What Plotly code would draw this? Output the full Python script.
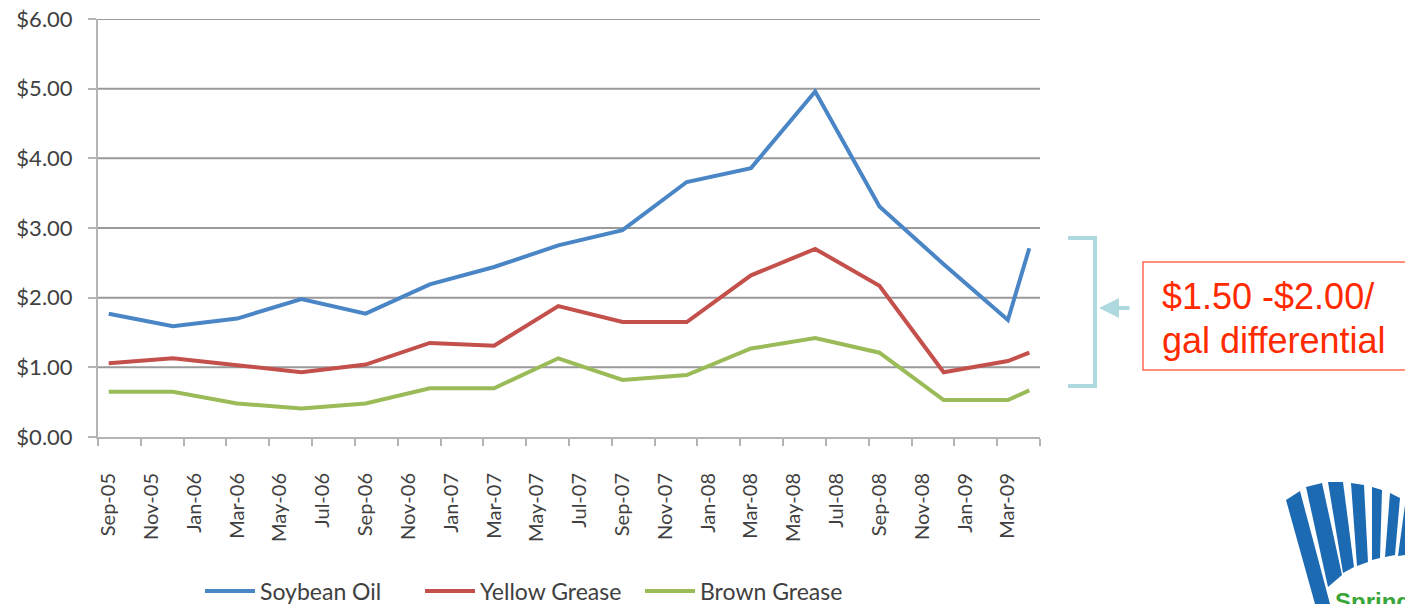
import pandas as pd
import plotly.graph_objects as go

# ---------------- data ----------------
tick_labels = ["Sep-05", "Nov-05", "Jan-06", "Mar-06", "May-06", "Jul-06", "Sep-06", "Nov-06",
               "Jan-07", "Mar-07", "May-07", "Jul-07", "Sep-07", "Nov-07", "Jan-08", "Mar-08",
               "May-08", "Jul-08", "Sep-08", "Nov-08", "Jan-09", "Mar-09"]
point_dates = ["Sep-05", "Dec-05", "Mar-06", "Jun-06", "Sep-06", "Dec-06", "Mar-07", "Jun-07",
               "Sep-07", "Dec-07", "Mar-08", "Jun-08", "Sep-08", "Dec-08", "Mar-09", "Apr-09"]
soybean_oil = [1.77, 1.59, 1.70, 1.98, 1.77, 2.19, 2.44, 2.75, 2.97, 3.66, 3.86, 4.96, 3.31, 2.48, 1.68, 2.71]
yellow_grease = [1.06, 1.13, 1.03, 0.93, 1.04, 1.35, 1.31, 1.88, 1.65, 1.65, 2.32, 2.70, 2.17, 0.93, 1.09, 1.21]
brown_grease = [0.65, 0.65, 0.48, 0.41, 0.48, 0.70, 0.70, 1.13, 0.82, 0.89, 1.27, 1.42, 1.21, 0.53, 0.53, 0.67]
y_ticks = [0, 1, 2, 3, 4, 5, 6]
y_tick_text = ["$0.00", "$1.00", "$2.00", "$3.00", "$4.00", "$5.00", "$6.00"]

START = pd.Timestamp("2005-09-01")


def month_index(label):
    d = pd.to_datetime(label, format="%b-%y")
    return (d.year - START.year) * 12 + d.month - START.month


x_pts = [month_index(s) for s in point_dates]
x_ticks = [month_index(s) for s in tick_labels]
n_months = 44  # Sep-05 .. Apr-09

# ---------------- layout geometry ----------------
W, H = 1405, 604
L, R, T, B = 98, 1040, 19, 437


def px(x):
    return (x - L) / (R - L)


def py(y):
    return (B - y) / (B - T)


TXT = "#404040"
FONT = "Lato"

fig = go.Figure()
for name, vals, col in [("Soybean Oil", soybean_oil, "#4a86c6"),
                        ("Yellow Grease", yellow_grease, "#c4504c"),
                        ("Brown Grease", brown_grease, "#9bbb59")]:
    fig.add_trace(go.Scatter(x=x_pts, y=vals, mode="lines", name=name,
                             line=dict(color=col, width=4)))

fig.update_layout(
    width=W, height=H,
    margin=dict(l=L, r=W - R, t=T, b=H - B, pad=0, autoexpand=False),
    paper_bgcolor="white", plot_bgcolor="white",
    font=dict(family=FONT, color=TXT, size=20),
    showlegend=True,
    legend=dict(orientation="h", x=px(200), xanchor="left", y=py(591), yanchor="middle",
                font=dict(family=FONT, size=23, color=TXT), itemwidth=50,
                entrywidth=155, entrywidthmode="pixels",
                bgcolor="rgba(0,0,0,0)"),
    xaxis=dict(range=[-0.5, n_months - 0.5], tickmode="array", tickvals=x_ticks,
               ticktext=tick_labels, tickangle=-90, ticks="", showgrid=False,
               showline=True, linecolor="#b4b4b4", linewidth=2, zeroline=False,
               automargin=False, ticklabelstandoff=26,
               tickfont=dict(family=FONT, size=20, color=TXT),
               minor=dict(tick0=-0.5, dtick=2, ticks="outside", ticklen=7,
                          tickcolor="#b4b4b4", tickwidth=2, showgrid=False)),
    yaxis=dict(range=[0, 6], tickmode="array", tickvals=y_ticks, ticktext=y_tick_text,
               showgrid=False, zeroline=False,
               showline=True, linecolor="#b4b4b4", linewidth=2,
               ticks="outside", ticklen=8, tickcolor="#b4b4b4", tickwidth=2,
               automargin=False, ticklabelstandoff=11,
               tickfont=dict(family=FONT, size=22, color=TXT)),
)

# horizontal gridlines (above $0, which is the axis line)
for v in y_ticks[1:]:
    fig.add_shape(type="line", xref="paper", yref="y", x0=0, x1=1, y0=v, y1=v,
                  line=dict(color="#9a9a9a", width=2), layer="below")

# bracket
teal = "#aedadf"
fig.add_shape(type="path", xref="paper", yref="paper",
              path=f"M {px(1068)},{py(238)} L {px(1095)},{py(238)} L {px(1095)},{py(386)} L {px(1068)},{py(386)}",
              line=dict(color=teal, width=4))
fig.add_annotation(xref="paper", yref="paper", x=px(1099), y=py(308), ax=32, ay=0,
                   text="", showarrow=True, arrowhead=2, arrowsize=1, arrowwidth=4,
                   arrowcolor=teal)

# red box
fig.add_shape(type="rect", xref="paper", yref="paper",
              x0=px(1143), x1=px(1412), y0=py(262), y1=py(370),
              line=dict(color="#ff6a50", width=1.5), fillcolor="rgba(0,0,0,0)")
fig.add_annotation(xref="paper", yref="paper", x=px(1160), y=py(296), xanchor="left",
                   yanchor="middle", text="$1.50 -$2.00/", showarrow=False,
                   font=dict(family="Liberation Sans", size=36, color="#ff2a00"))
fig.add_annotation(xref="paper", yref="paper", x=px(1160), y=py(340), xanchor="left",
                   yanchor="middle", text="gal differential", showarrow=False,
                   font=dict(family="Liberation Sans", size=36, color="#ff2a00"))

# logo (approximate)
blue = "#1b6ab2"
bars = [
    [(1286, 500), (1300, 491), (1330, 604), (1315, 604)],
    [(1306, 487), (1322, 483), (1342, 575), (1328, 587)],
    [(1328, 482), (1343, 482), (1354, 567), (1343, 573)],
    [(1351, 483), (1364, 485), (1368, 562), (1357, 566)],
    [(1372, 487), (1382, 490), (1380, 558), (1372, 560)],
    [(1390, 493), (1400, 498), (1395, 555), (1385, 557)],
    [(1405, 505), (1412, 508), (1405, 555), (1398, 556)],
]
for bar in bars:
    p = "M " + " L ".join(f"{px(a)},{py(b)}" for a, b in bar) + " Z"
    fig.add_shape(type="path", xref="paper", yref="paper", path=p,
                  fillcolor=blue, line=dict(width=0))
fig.add_annotation(xref="paper", yref="paper", x=px(1333), y=py(586), xanchor="left",
                   yanchor="top", text="<b>Springboard</b>", showarrow=False,
                   font=dict(family="Liberation Sans", size=24, color="#3aa63a"))

fig.write_html("out.html")
